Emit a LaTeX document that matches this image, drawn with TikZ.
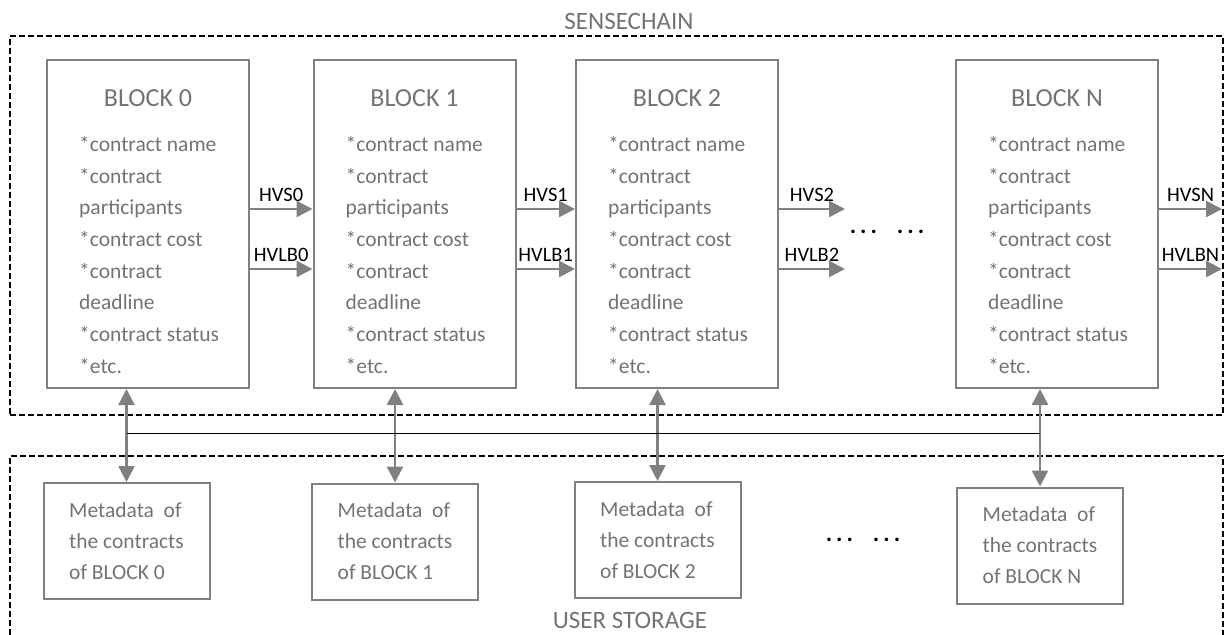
\documentclass[tikz,border=0pt]{standalone}
\usepackage{fontspec}
\setmainfont{Carlito}
\usetikzlibrary{arrows.meta}
\definecolor{boxgray}{RGB}{128,128,128}
\definecolor{txtgray}{RGB}{115,115,115}
\tikzset{
    blockbox/.style={draw=boxgray, line width=2pt, minimum width=202pt, minimum height=328pt},
    blocktitle/.style={text=txtgray, font=\fontsize{26}{30}\selectfont, inner sep=0pt},
    fieldlist/.style={text=txtgray, align=left, font=\fontsize{21.5}{31.7}\selectfont, inner sep=0pt},
    metabox/.style={draw=boxgray, line width=2pt, minimum width=166pt, minimum height=116pt,
        align=left, text=txtgray, font=\fontsize{21.5}{31}\selectfont, inner sep=0pt},
    chainbox/.style={draw, dash pattern=on 6pt off 3pt, line width=1.6pt},
    areatitle/.style={text=txtgray, font=\fontsize{25}{30}\selectfont},
    flow/.style={draw=boxgray, line width=2.5pt, ->},
    link/.style={draw=boxgray, line width=2.5pt, <->},
    hash/.style={midway, above=3pt, text=black, font=\fontsize{20.5}{24}\selectfont},
    gapdots/.style={font=\fontsize{24}{28}\selectfont\bfseries},
}
\begin{document}
\begin{tikzpicture}[x=1pt, y=-1pt, >={Triangle[length=16pt,width=16pt]}]
    \useasboundingbox (0,0) rectangle (1230,634);
    % the two areas
    \node[chainbox, minimum width=1213pt, minimum height=379pt] (sense) at (616.5,225.5) {};
    \node[chainbox, minimum width=1213pt, minimum height=200pt] (store) at (616.5,556) {};
    \node[areatitle] (sensetitle) at (629,21) {SENSECHAIN};
    \node[areatitle] (storetitle) at (630,620) {USER STORAGE};
    % blocks of the chain
    \foreach \id/\x in {0/148, 1/414.5, 2/677, N/1057} {
        \node[blockbox] (blk\id) at (\x,224) {};
        \node[blocktitle, anchor=base] (title\id) at ([yshift=-47pt]blk\id.north) {BLOCK \id};
        \node[fieldlist, anchor=north west] (fields\id) at ([xshift=33pt,yshift=-77pt]blk\id.north west)
            {*contract name\\*contract\\participants\\*contract cost\\*contract\\deadline\\*contract status\\*etc.};
    }
    % metadata in user storage
    \foreach \id/\x/\y in {0/126.5/541, 1/395/541.5, 2/657.5/540, N/1040/545.5} {
        \node[metabox] (meta\id) at (\x,\y) {Metadata\ \ of\\the contracts\\of BLOCK \id};
        \draw[link] (meta\id.north) -- (meta\id.north |- blk\id.south);
    }
    \coordinate (bus) at (0,433);
    \draw[black, line width=0.8pt] (meta0.north |- bus) -- (metaN.north |- bus);
    % hashes between blocks
    \coordinate (tail2) at (845,224);
    \coordinate (tailN) at (1222,224);
    \foreach \a/\b/\k in {blk0.east/blk1.west/0, blk1.east/blk2.west/1, blk2.east/tail2/2, blkN.east/tailN/N} {
        \draw[flow] ([yshift=15pt]\a) -- node[hash] (hvs\k) {HVS\k} ([yshift=15pt]\b);
        \draw[flow] ([yshift=-45pt]\a) -- node[hash] (hvlb\k) {HVLB\k} ([yshift=-45pt]\b);
    }
    \node[gapdots] (gap1) at (887,232) {.\,.\,.\hspace{20pt}.\,.\,.};
    \node[gapdots] (gap2) at (863,540) {.\,.\,.\hspace{20pt}.\,.\,.};
\end{tikzpicture}
\end{document}
